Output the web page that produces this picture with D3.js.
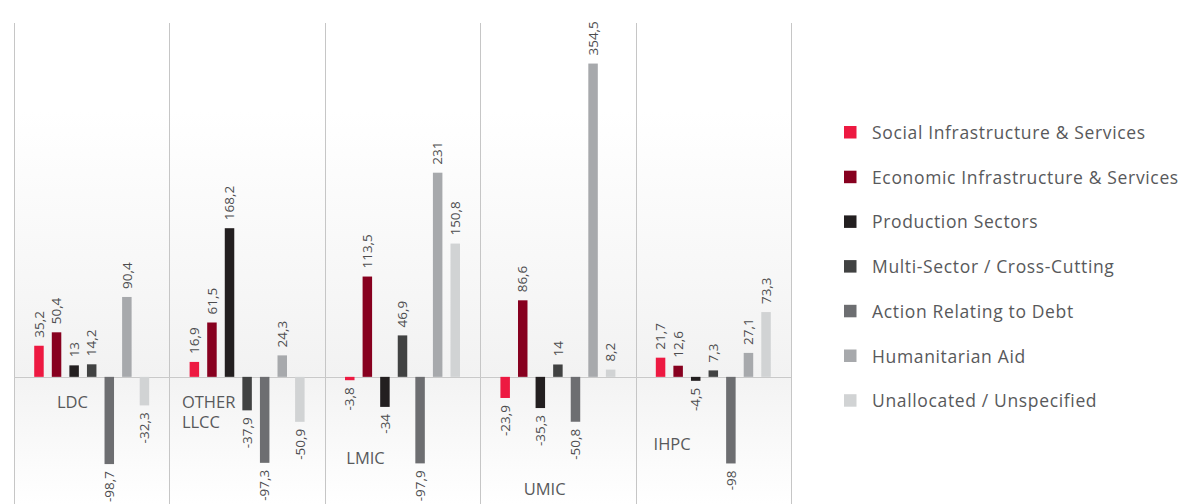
<!DOCTYPE html>
<html>
<head>
<meta charset="utf-8">
<script src="https://cdn.jsdelivr.net/npm/d3@7/dist/d3.min.js"></script>
<style>
  html, body { margin: 0; padding: 0; background: #ffffff; }
  svg { display: block; }
  .val { font-family: "Open Sans", sans-serif; font-size: 13.5px; fill: #4d4d4f; }
  .cat { font-family: "Open Sans", sans-serif; font-size: 16.5px; fill: #58595b; }
  .leg { font-family: "Open Sans", sans-serif; font-size: 17.5px; letter-spacing: 0.65px; fill: #58595b; }
</style>
</head>
<body>
<svg id="chart" width="1181" height="504"></svg>
<script>
// Country groups along the x axis
const groups = ["LDC", "OTHER LLCC", "LMIC", "UMIC", "IHPC"];

// Sector series (one value per group)
const sectors = [
  "Social Infrastructure & Services",
  "Economic Infrastructure & Services",
  "Production Sectors",
  "Multi-Sector / Cross-Cutting",
  "Action Relating to Debt",
  "Humanitarian Aid",
  "Unallocated / Unspecified"
];
const social       = [35.2, 16.9, -3.8, -23.9, 21.7];
const economic     = [50.4, 61.5, 113.5, 86.6, 12.6];
const production   = [13, 168.2, -34, -35.3, -4.5];
const multiSector  = [14.2, -37.9, 46.9, 14, 7.3];
const debt         = [-98.7, -97.3, -97.9, -50.8, -98];
const humanitarian = [90.4, 24.3, 231, 354.5, 27.1];
const unallocated  = [-32.3, -50.9, 150.8, 8.2, 73.3];
const seriesValues = [social, economic, production, multiSector, debt, humanitarian, unallocated];

const colors = ["#ed1941", "#87001f", "#231f20", "#414242", "#6d6e71", "#a7a9ac", "#d1d3d4"];

// Group name placement inside each panel (offset from panel's left edge, text baselines)
const catLabelLayout = [
  { lines: ["LDC"], dx: 43, y: 408 },
  { lines: ["OTHER", "LLCC"], dx: 12.5, y: 408 },
  { lines: ["LMIC"], dx: 21.5, y: 464 },
  { lines: ["UMIC"], dx: 43.5, y: 495 },
  { lines: ["IHPC"], dx: 18, y: 450 }
];

const fmt = v => String(v).replace(".", ",");

const svg = d3.select("#chart");

const x0 = d3.scaleBand().domain(groups).range([14, 791]).padding(0);
const x1 = d3.scaleBand().domain(d3.range(sectors.length))
  .range([0, x0.bandwidth()]).paddingInner(0.46).paddingOuter(1.15);
const y = d3.scaleLinear().domain([-145, 385]).range([505, 36.6]);

// Panel background shading
const defs = svg.append("defs");
const gUp = defs.append("linearGradient").attr("id", "gUp")
  .attr("x1", 0).attr("y1", 0).attr("x2", 0).attr("y2", 1);
gUp.append("stop").attr("offset", "0%").attr("stop-color", "#ffffff");
gUp.append("stop").attr("offset", "25%").attr("stop-color", "#ffffff");
gUp.append("stop").attr("offset", "100%").attr("stop-color", "#f2f2f2");
const gDn = defs.append("linearGradient").attr("id", "gDn")
  .attr("x1", 0).attr("y1", 0).attr("x2", 0).attr("y2", 1);
gDn.append("stop").attr("offset", "0%").attr("stop-color", "#f3f3f3");
gDn.append("stop").attr("offset", "100%").attr("stop-color", "#ffffff");

const [xl, xr] = x0.range();
svg.append("rect").attr("x", xl).attr("y", 23).attr("width", xr - xl)
  .attr("height", y(0) - 23).attr("fill", "url(#gUp)");
svg.append("rect").attr("x", xl).attr("y", y(0)).attr("width", xr - xl)
  .attr("height", 504 - y(0)).attr("fill", "url(#gDn)");

// Panel separators
const edges = groups.map(g => x0(g)).concat([xr]);
svg.append("g").selectAll("line").data(edges).join("line")
  .attr("x1", d => Math.round(d) + 0.5).attr("x2", d => Math.round(d) + 0.5)
  .attr("y1", 23).attr("y2", 504)
  .attr("stroke", "#c6c6c6").attr("stroke-width", 1);

// Zero line
svg.append("line").attr("x1", xl).attr("x2", xr)
  .attr("y1", Math.round(y(0)) + 0.5).attr("y2", Math.round(y(0)) + 0.5)
  .attr("stroke", "#c9c9c9").attr("stroke-width", 1.2);

// Bars
const cells = [];
groups.forEach((g, gi) => {
  seriesValues.forEach((vals, si) => {
    cells.push({ g, gi, si, v: vals[gi] });
  });
});

const bars = svg.append("g");
bars.selectAll("rect").data(cells).join("rect")
  .attr("x", d => x0(d.g) + x1(d.si))
  .attr("width", x1.bandwidth())
  .attr("y", d => Math.min(y(d.v), y(0)))
  .attr("height", d => Math.abs(y(d.v) - y(0)))
  .attr("fill", d => colors[d.si]);

// Value labels, rotated
svg.append("g").selectAll("text").data(cells).join("text")
  .attr("class", "val")
  .attr("transform", d => {
    const cx = x0(d.g) + x1(d.si) + x1.bandwidth() / 2;
    const yy = d.v >= 0 ? y(d.v) - 8 : y(d.v) + 7;
    return `translate(${cx},${yy}) rotate(-90)`;
  })
  .attr("text-anchor", d => d.v >= 0 ? "start" : "end")
  .attr("dy", "0.35em")
  .text(d => fmt(d.v));

// Group names
catLabelLayout.forEach((lay, gi) => {
  lay.lines.forEach((ln, li) => {
    svg.append("text").attr("class", "cat")
      .attr("x", x0(groups[gi]) + lay.dx)
      .attr("y", lay.y + li * 19.5)
      .text(ln);
  });
});

// Legend
const leg = svg.append("g").attr("transform", "translate(844,126)");
const items = leg.selectAll("g").data(sectors).join("g")
  .attr("transform", (d, i) => `translate(0,${i * 44.7})`);
items.append("rect").attr("width", 12.5).attr("height", 12.5)
  .attr("fill", (d, i) => colors[i]);
items.append("text").attr("class", "leg")
  .attr("x", 28).attr("y", 13).text(d => d);
</script>
</body>
</html>
